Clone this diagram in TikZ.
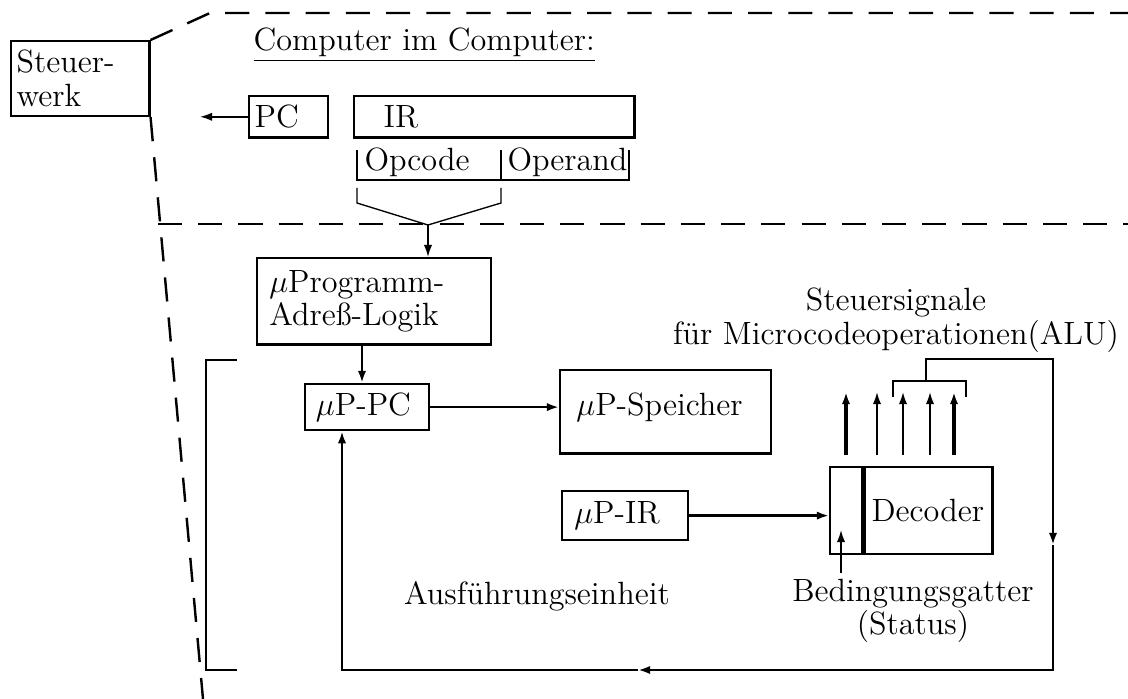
\documentclass[tikz,border=0pt,12pt]{standalone}
\usepackage{fontspec}
\usetikzlibrary{arrows.meta,positioning,calc}
\tikzset{
  blockbox/.style={draw,line width=0.9pt,inner ysep=2pt,align=left,anchor=north west},
  flowarr/.style={-{Latex[length=1.6mm,width=1.1mm]},line width=0.9pt},
  thinarr/.style={-{Latex[length=1.6mm,width=1.1mm]},line width=0.6pt},
  zone/.style={dash pattern=on 9pt off 6pt,line width=0.9pt},
  rimline/.style={line width=0.9pt},
  plainlabel/.style={inner sep=0pt,align=center}
}

\begin{document}
\begin{tikzpicture}[x=0.0131cm,y=-0.0131cm,font=\fontsize{12}{12.5}\selectfont]
  \useasboundingbox (0,0) rectangle (1128,699);

  % Steuerwerk und Rahmen
  \node[blockbox,inner xsep=2pt,text width=1.67cm,minimum height=0.98cm] (stw) at (10,40) {Steuer-\\werk};
  \draw[zone] (stw.north east) -- (210,13) -- (1128,13);
  \draw[zone] (stw.south east) -- (203,699);
  \draw[zone] (158,224) -- (1128,224);

  % Computer im Computer
  \node[anchor=south west,inner sep=0pt] (title) at (253,63) {\underline{Computer im Computer:}};
  \node[blockbox,inner xsep=2pt,text width=0.89cm,minimum height=0.54cm] (pc) at (248,95) {PC};
  \node[blockbox,inner xsep=11pt,text width=2.90cm,minimum height=0.54cm] (ir) at (353,95) {IR};
  \coordinate (pcout) at (200,115.5);
  \draw[thinarr] (pc.west) -- (pc.west -| pcout);

  \node[anchor=base west,inner sep=0pt] (opc) at (364,171) {Opcode};
  \node[anchor=base west,inner sep=0pt] (opd) at (507,171) {Operand};
  \draw[rimline] (357,150) |- (629,180) -- (629,150);
  \draw[rimline] (501,150) -- (501,180);
  \coordinate (fun) at (428,225);
  \draw[line width=0.5pt] (357,188) -- (357,203) -- (fun) -- (501,203) -- (501,188);

  % Ausfuehrungseinheit
  \node[blockbox,inner xsep=4.5pt,text width=2.75cm,minimum height=1.13cm] (mpa) at (256,257) {$\mu$Programm-\\Adreß-Logik};
  \draw[thinarr] (fun) -- (fun |- mpa.north);
  \node[blockbox,inner xsep=4pt,text width=1.34cm,minimum height=0.60cm] (upc) at (304,383) {$\mu$P-PC};
  \node[blockbox,inner xsep=6pt,text width=2.34cm,minimum height=1.09cm,text depth=6pt] (usp) at (559,369) {$\mu$P-Speicher};
  \node[blockbox,inner xsep=4.5pt,text width=1.33cm,minimum height=0.64cm] (uir) at (561,490) {$\mu$P-IR};
  \node[blockbox,inner sep=0pt,minimum width=0.42cm,minimum height=1.14cm] (gate) at (829,466) {};
  \node[blockbox,inner xsep=2.6pt,text width=1.49cm,minimum height=1.14cm] (dec) at (gate.north east) {Decoder};

  \draw[flowarr] (mpa.south -| 362,0) -- (upc.north -| 362,0);
  \draw[flowarr] (upc.east) -- (upc.east -| usp.west);
  \draw[flowarr] (uir.east) -- (uir.east -| gate.west);

  \foreach \sx/\lw in {846/1.2,877/0.7,903/0.7,930/0.7,954/1.2}
    \draw[-{Latex[length=1.6mm,width=1.1mm]},line width=\lw pt] (\sx,455) -- (\sx,392);
  \draw[rimline] (893,397) |- (966,381) -- (966,397);

  \coordinate (stem) at (926,381);
  \coordinate (lpdown) at (1053,545);
  \coordinate (lpleft) at (638,670);
  \draw[flowarr] (stem) -- (926,359) -| (lpdown);
  \draw[flowarr] (lpdown) |- (lpleft);
  \draw[flowarr] (lpleft) -| (upc.south -| 342,0);

  \coordinate (stat) at (841,573);
  \draw[thinarr] (stat) -- (stat |- 0,530);

  \draw[rimline] (237,360) -| (206,670) -- (237,670);

  \node[plainlabel] (sig) at (896,320) {Steuersignale\\für Microcodeoperationen(ALU)};
  \node[plainlabel] (bed) at (913,611) {Bedingungsgatter\\(Status)};
  \node[anchor=base,inner sep=0pt] (aus) at (537,604) {Ausführungseinheit};
\end{tikzpicture}
\end{document}
